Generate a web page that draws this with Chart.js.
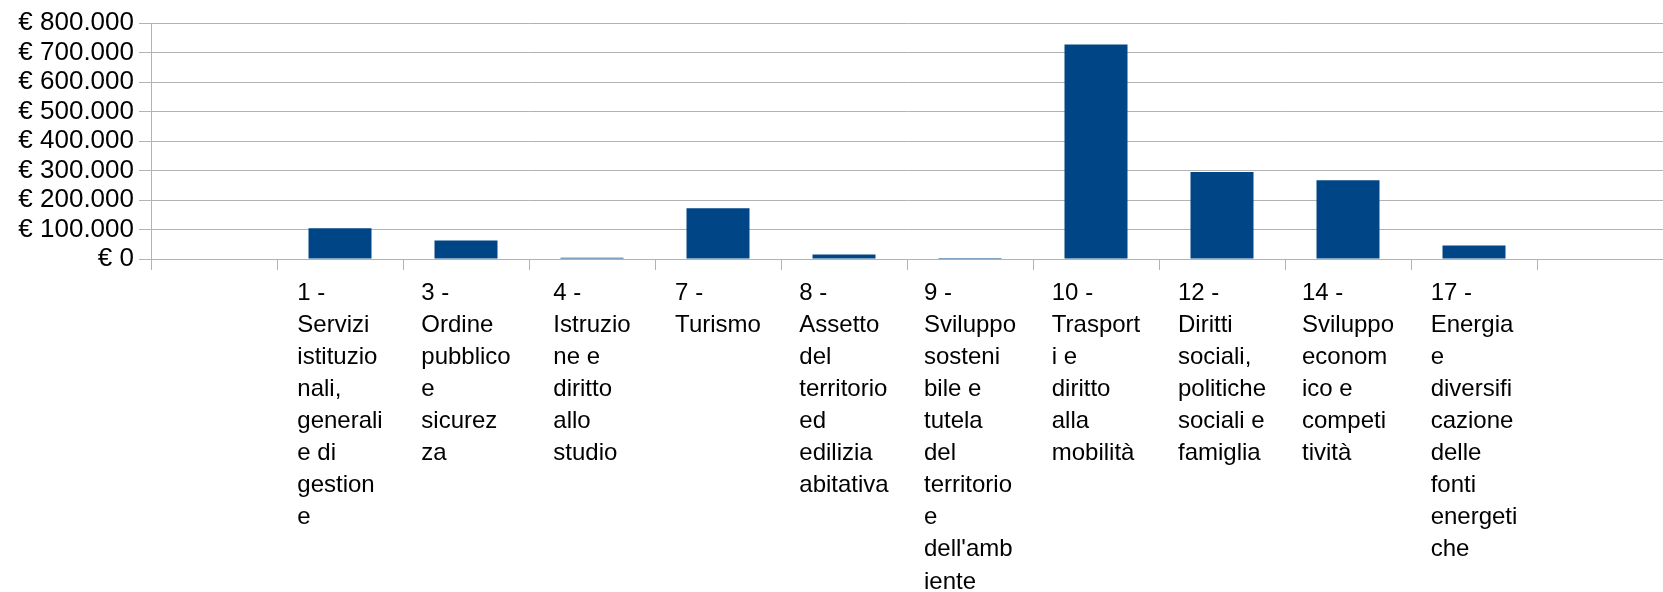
<!DOCTYPE html>
<html>
<head>
<meta charset="utf-8">
<script src="https://cdn.jsdelivr.net/npm/chart.js@4/dist/chart.umd.min.js"></script>
<style>
    html, body { margin: 0; padding: 0; background: #fff; }
    #wrap { width: 1663px; height: 592px; position: relative; }
</style>
</head>
<body>
<div id="wrap"><canvas id="missioniGrafico"></canvas></div>
<script>
// categorie (missioni), gia spezzate su piu righe come nel grafico originale
const categories = [
    [''],
    ['1 -', 'Servizi', 'istituzio', 'nali,', 'generali', 'e di', 'gestion', 'e'],
    ['3 -', 'Ordine', 'pubblico', 'e', 'sicurez', 'za'],
    ['4 -', 'Istruzio', 'ne e', 'diritto', 'allo', 'studio'],
    ['7 -', 'Turismo'],
    ['8 -', 'Assetto', 'del', 'territorio', 'ed', 'edilizia', 'abitativa'],
    ['9 -', 'Sviluppo', 'sosteni', 'bile e', 'tutela', 'del', 'territorio', 'e', "dell'amb", 'iente'],
    ['10 -', 'Trasport', 'i e', 'diritto', 'alla', 'mobilità'],
    ['12 -', 'Diritti', 'sociali,', 'politiche', 'sociali e', 'famiglia'],
    ['14 -', 'Sviluppo', 'econom', 'ico e', 'competi', 'tività'],
    ['17 -', 'Energia', 'e', 'diversifi', 'cazione', 'delle', 'fonti', 'energeti', 'che'],
    ['']
];
const importi = [null, 104000, 63000, 4000, 172000, 15000, 3500, 727000, 295000, 267000, 46000, null];
const yMin = 0;
const yMax = 800000;
const yStep = 100000;

const gridColor = '#b3b3b3';
const fontFamily = "'Liberation Sans', Arial, sans-serif";
const yFont = { family: fontFamily, size: 26 };
const xFontSize = 24;

function formatEuro(v) {
    const s = String(Math.round(v)).replace(/\B(?=(\d{3})+(?!\d))/g, '.');
    return '€ ' + s;
}

// etichette asse x: blocco centrato nella categoria, righe allineate a sinistra
const blockLabels = {
    id: 'blockLabels',
    afterDraw(chart) {
        const scale = chart.scales.x;
        const ctx = chart.ctx;
        const lineHeight = 32.1;
        ctx.save();
        ctx.font = xFontSize + 'px ' + fontFamily;
        ctx.fillStyle = '#000';
        ctx.textAlign = 'left';
        ctx.textBaseline = 'middle';
        chart.data.labels.forEach(function (lines, i) {
            const cx = scale.getPixelForValue(i);
            let w = 0;
            lines.forEach(function (l) { w = Math.max(w, ctx.measureText(l).width); });
            const x0 = cx - w / 2;
            lines.forEach(function (l, k) {
                ctx.fillText(l, x0, scale.top + 34 + k * lineHeight);
            });
        });
        ctx.restore();
    }
};

const ctx = document.getElementById('missioniGrafico').getContext('2d');
new Chart(ctx, {
    type: 'bar',
    data: {
        labels: categories,
        datasets: [{
            data: importi,
            backgroundColor: '#004586',
            borderWidth: 0,
            barPercentage: 0.5,
            categoryPercentage: 1.0
        }]
    },
    options: {
        responsive: true,
        maintainAspectRatio: false,
        animation: false,
        layout: { padding: { top: 23, right: 0, bottom: 0, left: 0 } },
        plugins: {
            legend: { display: false },
            tooltip: { enabled: false }
        },
        scales: {
            x: {
                offset: true,
                grid: {
                    offset: true,
                    drawOnChartArea: false,
                    drawTicks: true,
                    tickLength: 11,
                    color: gridColor
                },
                border: { color: gridColor },
                ticks: { display: false },
                afterFit: function (scale) { scale.height = 333; }
            },
            y: {
                min: yMin,
                max: yMax,
                ticks: {
                    stepSize: yStep,
                    autoSkip: false,
                    color: '#000',
                    font: yFont,
                    padding: 5,
                    callback: function (v) { return formatEuro(v); }
                },
                grid: { color: gridColor, tickLength: 12 },
                border: { color: gridColor },
                afterFit: function (scale) { scale.width = 151; }
            }
        }
    },
    plugins: [blockLabels]
});
</script>
</body>
</html>
